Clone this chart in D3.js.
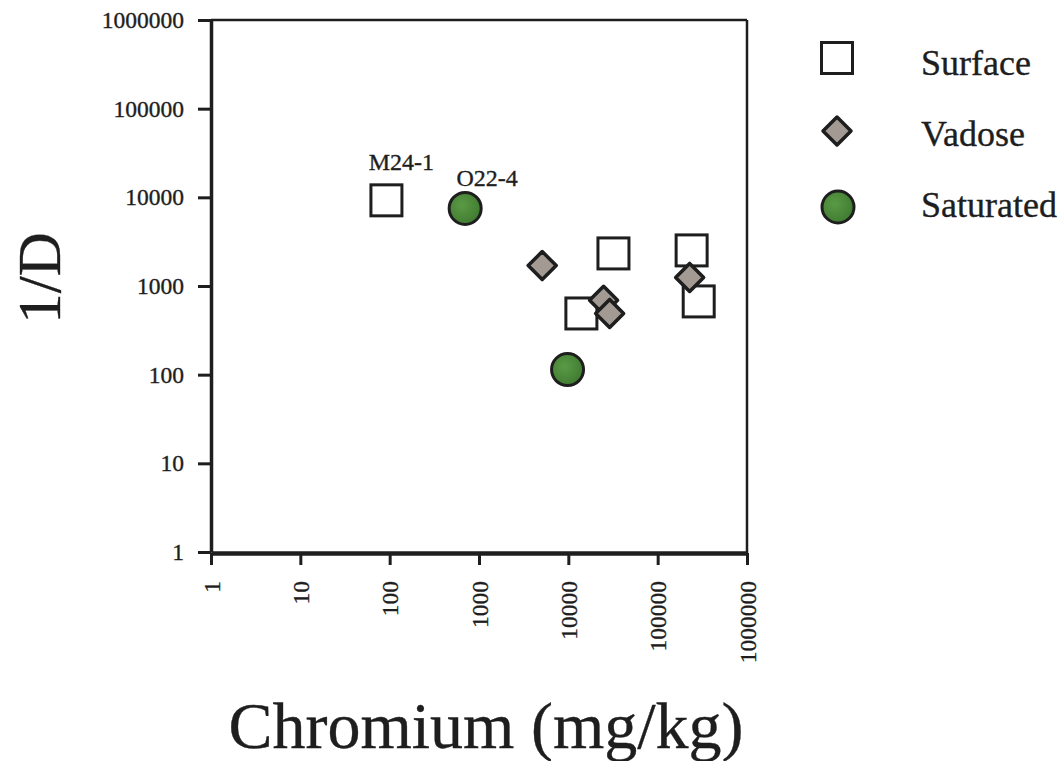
<!DOCTYPE html>
<html>
<head>
<meta charset="utf-8">
<script src="https://cdn.jsdelivr.net/npm/d3@7/dist/d3.min.js"></script>
<style>
  html, body { margin: 0; padding: 0; background: #fff; }
  svg text { font-family: "Liberation Serif", "Times New Roman", serif; fill: #1e1e1e; stroke: #1e1e1e; stroke-width: 0.35px; }
</style>
</head>
<body>
<svg id="chart" width="1063" height="761"></svg>
<script>
// ---- data ----
const tickValues = [1, 10, 100, 1000, 10000, 100000, 1000000];
const surfaceX = [92, 32000, 240000, 288000, 14000];
const surfaceY = [9250, 2330, 2520, 670, 490];
const vadoseX = [5100, 24800, 29000, 228000];
const vadoseY = [1700, 690, 490, 1250];
const saturatedX = [700, 9800];
const saturatedY = [7500, 114];
const pointLabels = ["M24-1", "O22-4"];
const labelX = [92, 700];
const labelY = [9250, 7500];
const legendNames = ["Surface", "Vadose", "Saturated"];

const svg = d3.select("#chart");
const ink = "#1e1e1e";

const x = d3.scaleLog().domain([1, 1e6]).range([211, 747]);
const y = d3.scaleLog().domain([1, 1e6]).range([552, 20]);

// frame
svg.append("line").attr("x1", 211).attr("x2", 747).attr("y1", 20).attr("y2", 20)
  .attr("stroke", ink).attr("stroke-width", 2.5);
svg.append("line").attr("x1", 747).attr("x2", 747).attr("y1", 20).attr("y2", 553)
  .attr("stroke", ink).attr("stroke-width", 2.5);

// y axis
const yAxis = svg.append("g").attr("transform", "translate(211,0)")
  .call(d3.axisLeft(y).tickValues(tickValues).tickFormat(d3.format("d"))
    .tickSize(13).tickSizeOuter(0).tickPadding(14));
yAxis.attr("font-family", null).attr("font-size", null);
yAxis.select(".domain").attr("stroke", ink).attr("stroke-width", 3.5);
yAxis.selectAll(".tick line").attr("stroke", ink).attr("stroke-width", 3);
yAxis.selectAll(".tick text").style("font-size", "23.5px").attr("fill", ink);

// x axis
const xAxis = svg.append("g").attr("transform", "translate(0,553)")
  .call(d3.axisBottom(x).tickValues(tickValues).tickFormat(d3.format("d"))
    .tickSize(12).tickSizeOuter(0));
xAxis.attr("font-family", null).attr("font-size", null);
xAxis.select(".domain").attr("stroke", ink).attr("stroke-width", 4.5);
xAxis.selectAll(".tick line").attr("stroke", ink).attr("stroke-width", 3);
xAxis.selectAll(".tick text")
  .style("font-size", "23.5px").attr("fill", ink)
  .attr("transform", "rotate(-90)")
  .attr("text-anchor", "end")
  .attr("x", -28).attr("y", 0).attr("dy", "0.35em");

// axis titles
svg.append("text").attr("transform", "translate(60,278) rotate(-90)")
  .attr("text-anchor", "middle").style("font-size", "61px").text("1/D");
svg.append("text").attr("x", 486).attr("y", 748)
  .attr("text-anchor", "middle").style("font-size", "66px").text("Chromium (mg/kg)");

// defs for green circles
const defs = svg.append("defs");
const grad = defs.append("radialGradient").attr("id", "gr").attr("cx", "40%").attr("cy", "40%").attr("r", "65%");
grad.append("stop").attr("offset", "0%").attr("stop-color", "#5a9a45");
grad.append("stop").attr("offset", "100%").attr("stop-color", "#3f7a30");

const sq = 31, dg = 14, cr = 16;
function drawSquare(g, cx, cy) {
  g.append("rect").attr("x", cx - sq / 2).attr("y", cy - sq / 2).attr("width", sq).attr("height", sq)
    .attr("fill", "#fff").attr("stroke", ink).attr("stroke-width", 3);
}
function drawDiamond(g, cx, cy) {
  g.append("path").attr("d", `M${cx},${cy - dg}L${cx + dg},${cy}L${cx},${cy + dg}L${cx - dg},${cy}Z`)
    .attr("fill", "#a29a93").attr("stroke", ink).attr("stroke-width", 3.5).attr("stroke-linejoin", "round");
}
function drawCircle(g, cx, cy) {
  g.append("circle").attr("cx", cx).attr("cy", cy).attr("r", cr)
    .attr("fill", "url(#gr)").attr("stroke", ink).attr("stroke-width", 3);
}

const pts = svg.append("g");
surfaceX.forEach((v, i) => drawSquare(pts, x(v), y(surfaceY[i])));
vadoseX.forEach((v, i) => drawDiamond(pts, x(v), y(vadoseY[i])));
saturatedX.forEach((v, i) => drawCircle(pts, x(v), y(saturatedY[i])));

// point labels
pointLabels.forEach((t, i) => {
  svg.append("text").attr("x", x(labelX[i]) + (i === 0 ? 15 : 22)).attr("y", y(labelY[i]) + (i === 0 ? -30 : -22))
    .attr("text-anchor", "middle").style("font-size", "24px").text(t);
});

// legend
const legY = [58, 131, 207];
const lg = svg.append("g");
drawSquare(lg, 837, legY[0]);
drawDiamond(lg, 837, legY[1]);
drawCircle(lg, 838, legY[2]);
const legBase = [75, 146, 217];
legendNames.forEach((n, i) => {
  lg.append("text").attr("x", 921).attr("y", legBase[i]).style("font-size", "36px").text(n);
});
</script>
</body>
</html>
